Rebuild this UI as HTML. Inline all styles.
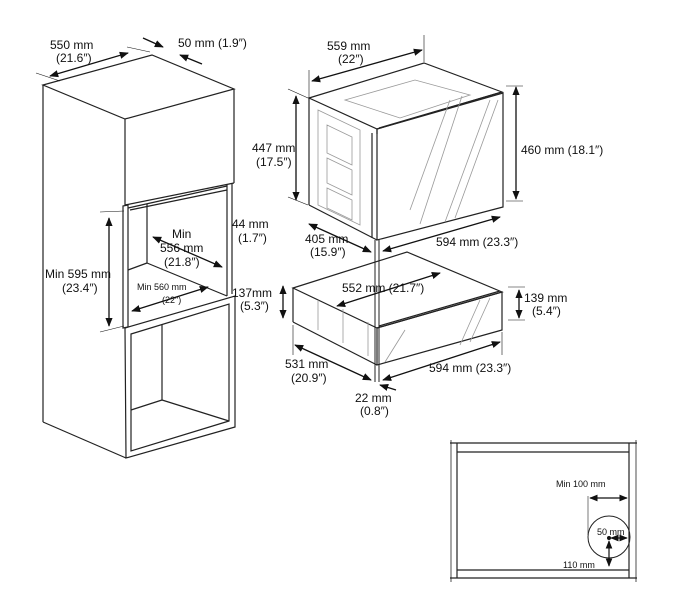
<!DOCTYPE html>
<html><head><meta charset="utf-8"><style>
html,body{margin:0;padding:0;background:#fff;}
svg{display:block;}
text{font-family:"Liberation Sans",sans-serif;fill:#111;}
</style></head><body>
<svg width="676" height="616" viewBox="0 0 676 616" xmlns="http://www.w3.org/2000/svg">
<defs>
<marker id="a" viewBox="0 0 10 10" refX="9" refY="5" markerWidth="7" markerHeight="7" orient="auto-start-reverse"><path d="M0,1 L10,5 L0,9 z" fill="#111"/></marker>
</defs>
<g stroke="#222" stroke-width="1.2" fill="none">
<polygon points="43,85 152,55 234,89 125,119" fill="#fff"/>
<line x1="43" y1="85" x2="43" y2="422"/>
<line x1="125" y1="119" x2="125" y2="205"/>
<line x1="234" y1="89" x2="234" y2="183"/>
<line x1="125" y1="205" x2="234" y2="183"/>
<line x1="43" y1="422" x2="126" y2="458"/>
<polygon points="123,206 128,205 128,327 123,328"/>
<line x1="128" y1="208" x2="227" y2="186"/>
<line x1="130" y1="210" x2="227" y2="190"/>
<line x1="227" y1="185" x2="227" y2="296"/>
<line x1="232" y1="183" x2="232" y2="294"/>
<line x1="147" y1="204" x2="147" y2="263"/>
<line x1="128" y1="270" x2="147" y2="263"/>
<line x1="147" y1="263" x2="227" y2="296"/>
<polygon points="125,328 235,296 235,427 126,458"/>
<polygon points="131,334 229,304 229,421 131,451"/>
<line x1="162" y1="325" x2="162" y2="400"/>
<line x1="131" y1="410" x2="162" y2="400"/>
<line x1="162" y1="400" x2="229" y2="421"/>
<polygon points="309,98 424,63 502,92 377,129"/>
<line x1="309" y1="98" x2="309" y2="205"/>
<line x1="309" y1="205" x2="377" y2="240"/>
<polygon points="377,129 503,93 503,207 377,240"/>
<line x1="372" y1="133" x2="372" y2="238"/>
<line x1="377" y1="129" x2="377" y2="134"/>
<line x1="379" y1="128" x2="502" y2="92"/>
<g stroke="#999" stroke-width="0.8">
<polygon points="318,110 360,130 360,225 318,205"/>
<polygon points="327,125 352,137 352,165 327,153"/>
<polygon points="327,158 352,170 352,195 327,183"/>
<polygon points="327,188 352,200 352,220 327,208"/>
<polygon points="345,100 415,80 470,95 400,118"/>
<line x1="410" y1="210" x2="450" y2="100"/><line x1="420" y1="224" x2="462" y2="96"/>
<line x1="445" y1="222" x2="490" y2="100"/><line x1="455" y1="218" x2="498" y2="100"/>
</g>
<polygon points="293,288 407,252 502,292 377,328"/>
<line x1="293" y1="288" x2="293" y2="322"/>
<line x1="293" y1="322" x2="377" y2="365"/>
<polygon points="377,328 502,292 502,330 377,365"/>
<line x1="379" y1="326" x2="500" y2="291"/>
<g stroke="#999" stroke-width="0.8">
<line x1="385" y1="362" x2="405" y2="330"/><line x1="460" y1="345" x2="480" y2="300"/><line x1="470" y1="342" x2="490" y2="298"/>
<line x1="318" y1="300" x2="318" y2="330"/><line x1="343" y1="309" x2="343" y2="343"/><line x1="368" y1="322" x2="368" y2="356"/>
</g>
<line x1="375" y1="240" x2="375" y2="382" stroke-width="1"/>
<line x1="379" y1="240" x2="379" y2="382" stroke-width="1"/>
</g>
<g stroke="#111" stroke-width="1.3" fill="none">
<line x1="50" y1="76" x2="128" y2="53" marker-start="url(#a)" marker-end="url(#a)"/>
<line x1="36" y1="73" x2="60" y2="81" stroke-width="0.6"/>
<line x1="127" y1="47" x2="150" y2="52" stroke-width="0.6"/>
<line x1="143" y1="38" x2="163" y2="47" marker-end="url(#a)"/>
<line x1="202" y1="64" x2="180" y2="55" marker-end="url(#a)"/>
<line x1="109" y1="218" x2="109" y2="326" marker-start="url(#a)" marker-end="url(#a)"/>
<line x1="100" y1="212" x2="124" y2="211" stroke-width="0.6"/>
<line x1="100" y1="332" x2="124" y2="326" stroke-width="0.6"/>
<line x1="153" y1="237" x2="222" y2="267" marker-start="url(#a)" marker-end="url(#a)"/>
<line x1="132" y1="311" x2="208" y2="287" marker-start="url(#a)" marker-end="url(#a)"/>
<line x1="312" y1="81" x2="422" y2="50" marker-start="url(#a)" marker-end="url(#a)"/>
<line x1="309" y1="70" x2="309" y2="98" stroke-width="0.6"/>
<line x1="424" y1="35" x2="424" y2="62" stroke-width="0.6"/>
<line x1="296" y1="96" x2="296" y2="200" marker-start="url(#a)" marker-end="url(#a)"/>
<line x1="288" y1="89" x2="308" y2="98" stroke-width="0.6"/>
<line x1="288" y1="197" x2="308" y2="205" stroke-width="0.6"/>
<line x1="516" y1="87" x2="516" y2="199" marker-start="url(#a)" marker-end="url(#a)"/>
<line x1="506" y1="86" x2="523" y2="86" stroke-width="0.6"/>
<line x1="506" y1="201" x2="523" y2="201" stroke-width="0.6"/>
<line x1="309" y1="224" x2="371" y2="252" marker-start="url(#a)" marker-end="url(#a)"/>
<line x1="383" y1="251" x2="500" y2="217" marker-start="url(#a)" marker-end="url(#a)"/>
<line x1="337" y1="306" x2="440" y2="273" marker-start="url(#a)" marker-end="url(#a)"/>
<line x1="283" y1="286" x2="283" y2="318" marker-start="url(#a)" marker-end="url(#a)"/>
<line x1="519" y1="290" x2="519" y2="318" marker-start="url(#a)" marker-end="url(#a)"/>
<line x1="508" y1="287" x2="525" y2="287" stroke-width="0.6"/>
<line x1="508" y1="320" x2="525" y2="320" stroke-width="0.6"/>
<line x1="295" y1="345" x2="371" y2="380" marker-start="url(#a)" marker-end="url(#a)"/>
<line x1="293" y1="325" x2="293" y2="355" stroke-width="0.6"/>
<line x1="383" y1="380" x2="500" y2="342" marker-start="url(#a)" marker-end="url(#a)"/>
<line x1="502" y1="332" x2="502" y2="355" stroke-width="0.6"/>
<line x1="396" y1="390" x2="380" y2="385" marker-end="url(#a)"/>
</g>
<g stroke="#222" stroke-width="1.2" fill="none">
<line x1="450" y1="443" x2="637" y2="443"/>
<line x1="450" y1="578" x2="637" y2="578"/>
<line x1="457" y1="452" x2="629" y2="452"/>
<line x1="457" y1="570" x2="629" y2="570"/>
<line x1="457" y1="443" x2="457" y2="578"/>
<line x1="629" y1="443" x2="629" y2="578"/>
<line x1="451" y1="440" x2="451" y2="582" stroke-width="0.8"/>
<line x1="636" y1="440" x2="636" y2="582" stroke-width="0.8"/>
<circle cx="609" cy="537" r="21" stroke-width="1"/>
<line x1="588" y1="496" x2="588" y2="535" stroke-width="0.6"/>
</g>
<g stroke="#111" stroke-width="1.2">
<line x1="590" y1="498" x2="627" y2="498" marker-start="url(#a)" marker-end="url(#a)"/>
<line x1="611" y1="538" x2="627" y2="538" marker-start="url(#a)" marker-end="url(#a)"/>
<line x1="609" y1="541" x2="609" y2="566" marker-start="url(#a)" marker-end="url(#a)"/>
</g>
<circle cx="609" cy="538" r="2" fill="#111"/>
<g font-size="12">
<text x="50" y="49">550 mm</text><text x="56" y="62">(21.6″)</text>
<text x="178" y="47">50 mm (1.9″)</text>
<text x="232" y="228">44 mm</text><text x="238" y="242">(1.7″)</text>
<text x="45" y="278">Min 595 mm</text><text x="62" y="292">(23.4″)</text>
<text x="172" y="238">Min</text><text x="160" y="252">556 mm</text><text x="164" y="266">(21.8″)</text>
<text x="327" y="50">559 mm</text><text x="338" y="63">(22″)</text>
<text x="252" y="152">447 mm</text><text x="256" y="166">(17.5″)</text>
<text x="521" y="154">460 mm (18.1″)</text>
<text x="305" y="243">405 mm</text><text x="310" y="256">(15.9″)</text>
<text x="436" y="246">594 mm (23.3″)</text>
<text x="232" y="297">137mm</text><text x="240" y="310">(5.3″)</text>
<text x="342" y="292">552 mm (21.7″)</text>
<text x="524" y="302">139 mm</text><text x="532" y="315">(5.4″)</text>
<text x="285" y="368">531 mm</text><text x="291" y="382">(20.9″)</text>
<text x="429" y="372">594 mm (23.3″)</text>
<text x="355" y="402">22 mm</text><text x="360" y="415">(0.8″)</text>
</g>
<g font-size="9">
<text x="137" y="290">Min 560 mm</text><text x="162" y="303">(22″)</text>
<text x="556" y="487">Min 100 mm</text>
<text x="597" y="535">50 mm</text>
<text x="563" y="568">110 mm</text>
</g>
</svg>
</body></html>
